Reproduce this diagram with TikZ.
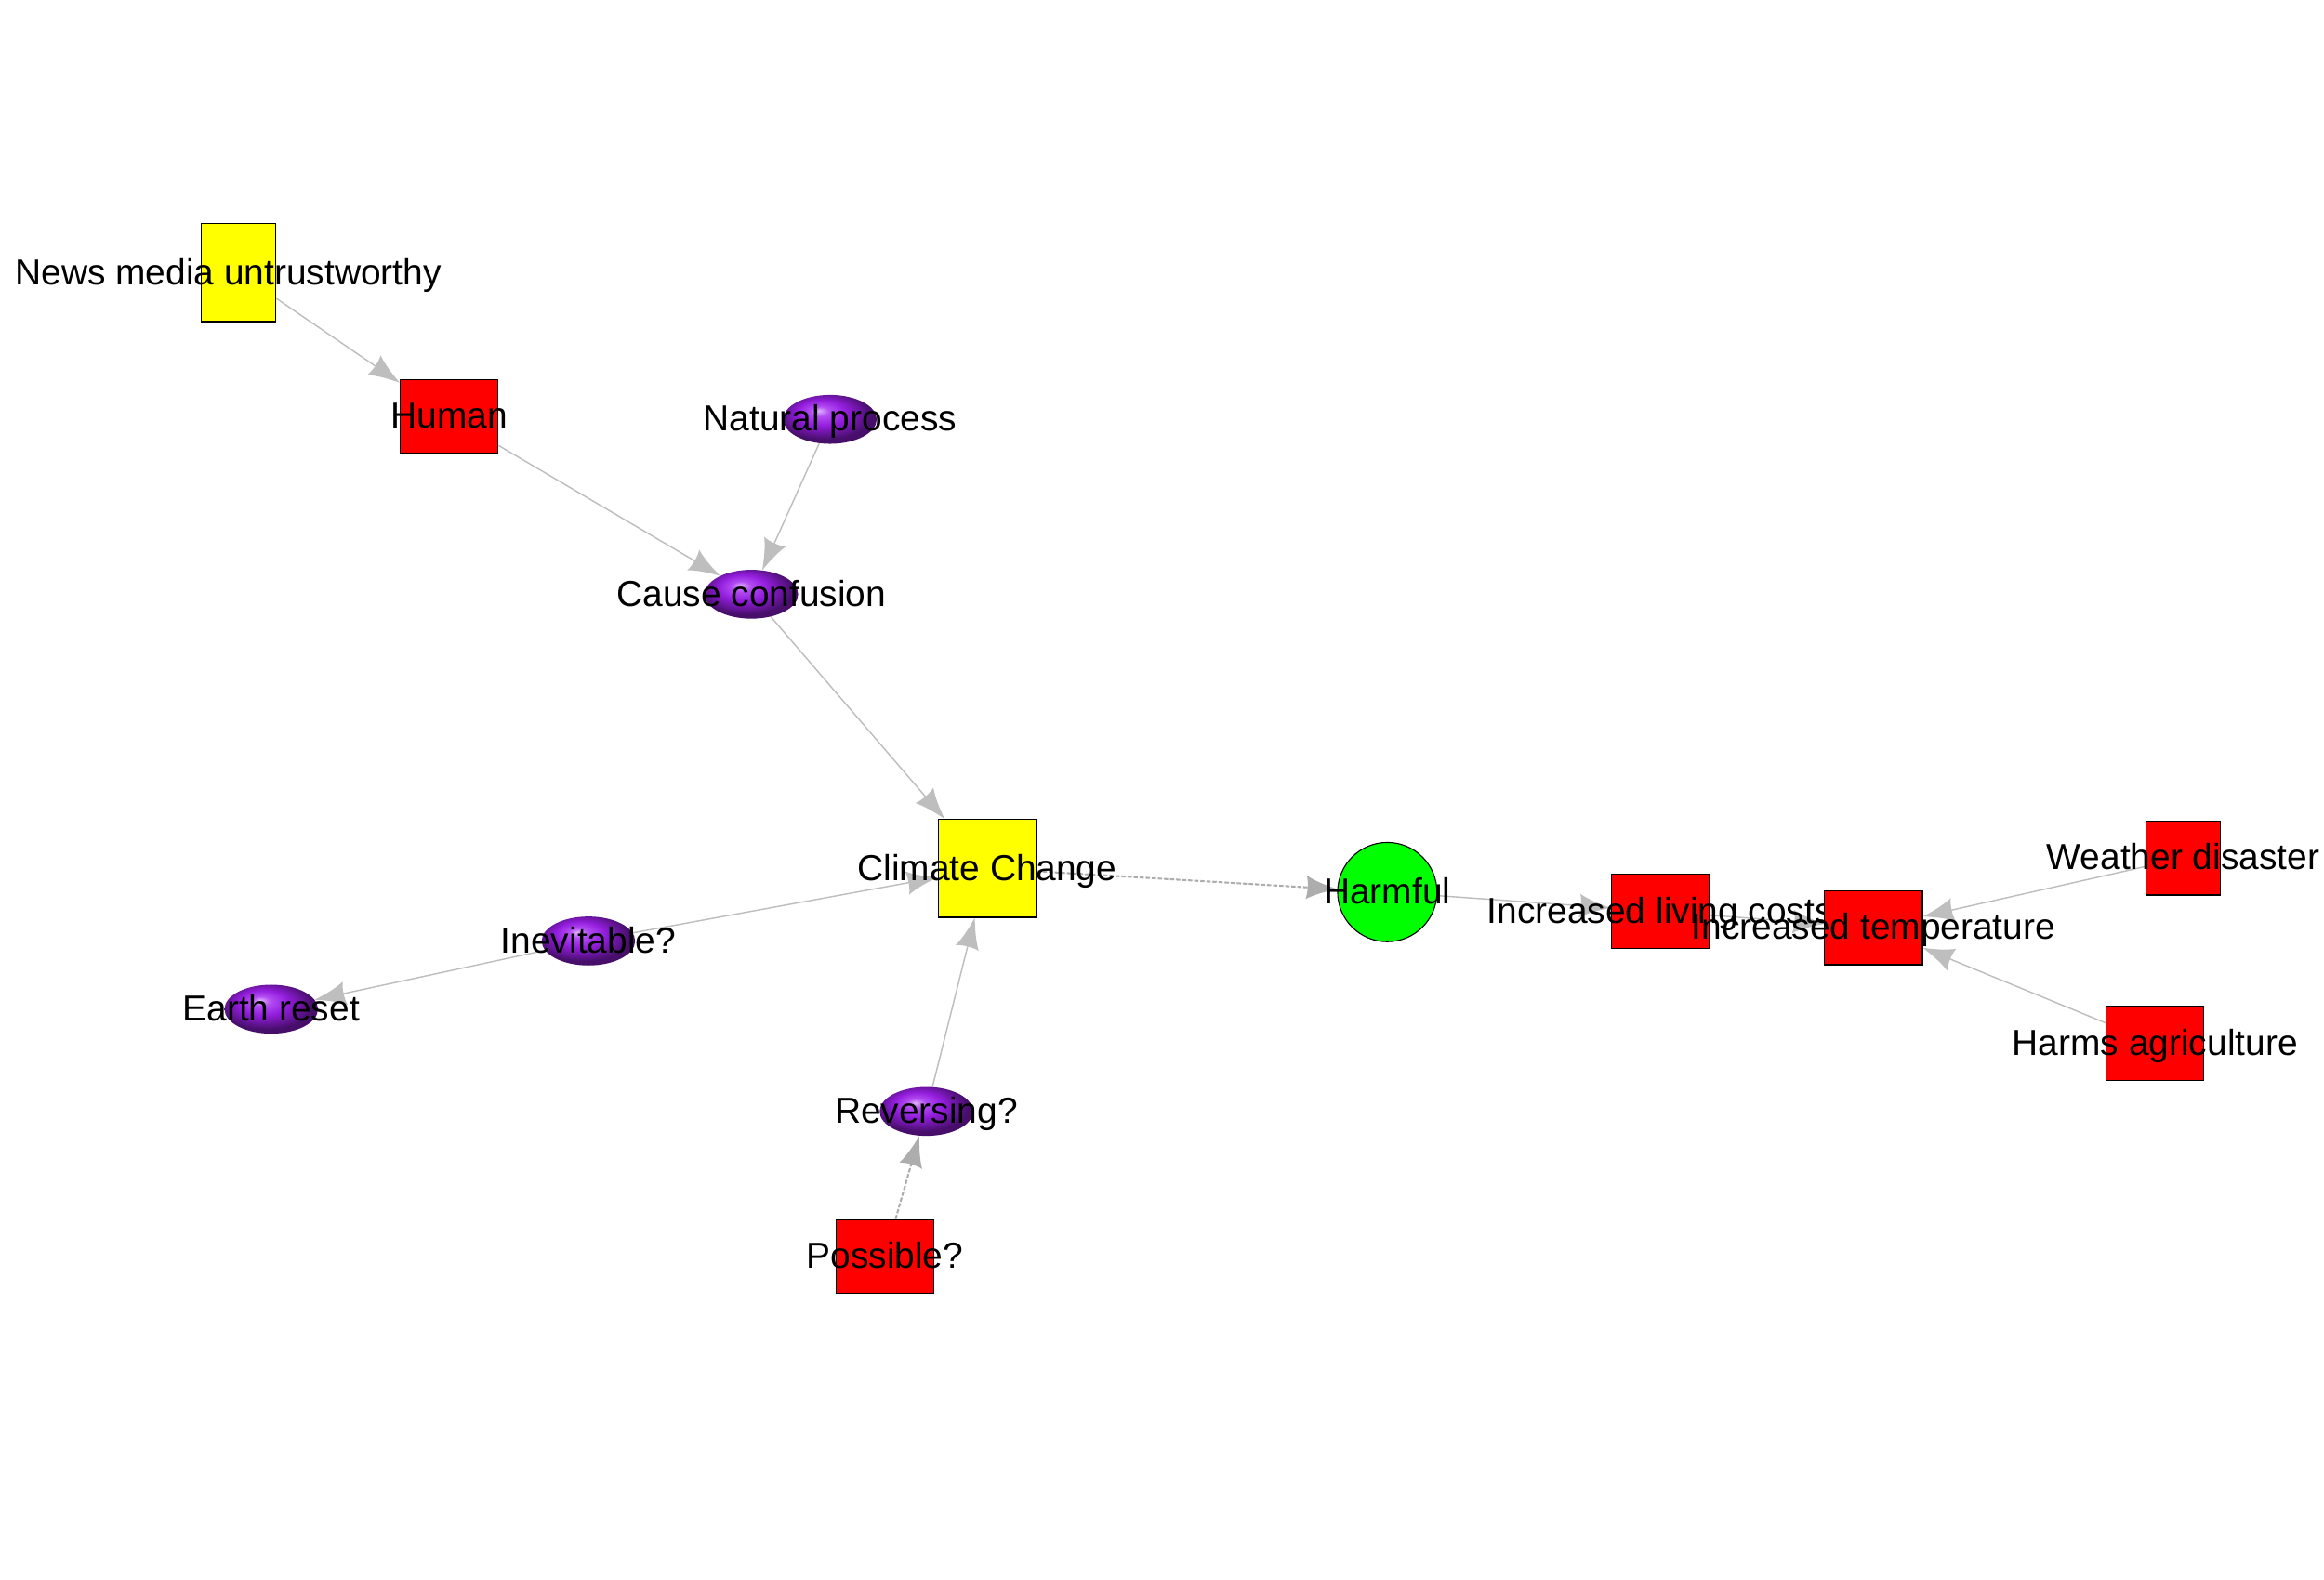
\documentclass[tikz,border=0pt]{standalone}
\usepackage{fontspec}
\setmainfont{Liberation Sans}
\usetikzlibrary{shapes.geometric,backgrounds,arrows.meta}
\definecolor{pur}{HTML}{A020F0}
\definecolor{edgegray}{HTML}{BEBEBE}
\definecolor{dashgray}{HTML}{ADADAD}
\definecolor{rred}{HTML}{FF0000}
\definecolor{yyel}{HTML}{FFFF00}
\definecolor{ggrn}{HTML}{00FF00}
\pgfdeclareradialshading{purpleball}{\pgfpoint{-6bp}{9bp}}{color(0bp)=(pur!35!white); color(5bp)=(pur!80!white); color(13bp)=(pur!92!black); color(25bp)=(pur!45!black); color(50bp)=(pur!35!black)}
\pgfdeclarearrow{
  name = Flare,
  parameters = {\the\pgfarrowlength,\the\pgfarrowwidth},
  setup code = {
    \pgfarrowssettipend{0pt}
    \pgfarrowssetlineend{-.6\pgfarrowlength}
    \pgfarrowssetbackend{-\pgfarrowlength}
    \pgfarrowshullpoint{0pt}{0pt}
    \pgfarrowsupperhullpoint{-\pgfarrowlength}{.5\pgfarrowwidth}
    \pgfarrowssavethe\pgfarrowlength
    \pgfarrowssavethe\pgfarrowwidth
  },
  drawing code = {
    \pgfpathmoveto{\pgfqpoint{0pt}{0pt}}
    \pgfpathcurveto{\pgfqpoint{-.4\pgfarrowlength}{.14\pgfarrowwidth}}{\pgfqpoint{-.75\pgfarrowlength}{.3\pgfarrowwidth}}{\pgfqpoint{-\pgfarrowlength}{.5\pgfarrowwidth}}
    \pgfpathcurveto{\pgfqpoint{-.93\pgfarrowlength}{.2\pgfarrowwidth}}{\pgfqpoint{-.93\pgfarrowlength}{-.2\pgfarrowwidth}}{\pgfqpoint{-\pgfarrowlength}{-.5\pgfarrowwidth}}
    \pgfpathcurveto{\pgfqpoint{-.75\pgfarrowlength}{-.3\pgfarrowwidth}}{\pgfqpoint{-.4\pgfarrowlength}{-.14\pgfarrowwidth}}{\pgfqpoint{0pt}{0pt}}
    \pgfpathclose
    \pgfusepathqfill
  },
  defaults = {length = 21pt, width = 16pt}
}
\tikzset{
  lab/.style={font=\fontsize{24.4pt}{28pt}\selectfont, text=black, inner sep=0pt, text height=17.5pt, text depth=0pt, yshift=0.8pt},
  sq/.style={rectangle, draw=black, line width=0.7pt, inner sep=0pt},
  ball/.style={ellipse, draw=none, inner sep=0pt, minimum width=63pt, minimum height=33pt, shading=purpleball},
  conn/.style={draw=edgegray, fill=edgegray, line width=0.9pt, -{Flare}},
  dconn/.style={conn, draw=dashgray, line width=1.3pt, dash pattern=on 2.8pt off 1.3pt}
}
\begin{document}
\begin{tikzpicture}[x=1pt, y=-1pt]
\useasboundingbox (0,0) rectangle (1568,1066);
% nodes
\node[sq, fill=yyel, minimum width=50pt, minimum height=66pt,
  label={[lab, xshift=-7pt]center:News media untrustworthy}] (news) at (161,184) {};
\node[sq, fill=rred, minimum width=66pt, minimum height=50pt,
  label={[lab]center:Human}] (human) at (303,281) {};
\node[ball, label={[lab]center:Natural process}] (nat) at (560,283) {};
\node[ball, label={[lab]center:Cause confusion}] (cause) at (507,401) {};
\node[sq, fill=yyel, minimum width=66pt, minimum height=66pt,
  label={[lab]center:Climate Change}] (cc) at (666,586) {};
\node[circle, draw=black, line width=0.7pt, fill=ggrn, inner sep=0pt, minimum size=67pt,
  label={[lab]center:Harmful}] (harm) at (936,602) {};
\node[ball, label={[lab]center:Inevitable?}] (inev) at (397,635) {};
\node[ball, label={[lab]center:Earth reset}] (earth) at (183,681) {};
\node[ball, label={[lab]center:Reversing?}] (rev) at (625,750) {};
\node[sq, fill=rred, minimum width=66pt, minimum height=50pt,
  label={[lab]center:Possible?}] (poss) at (597,848) {};
\node[sq, fill=rred, minimum width=66pt, minimum height=50pt,
  label={[lab]center:Increased living costs}] (ilc) at (1120,615) {};
\node[sq, fill=rred, minimum width=66pt, minimum height=50pt,
  label={[lab]center:Increased temperature}] (itemp) at (1264,626) {};
\node[sq, fill=rred, minimum width=50pt, minimum height=50pt,
  label={[lab]center:Weather disaster}] (weather) at (1473,579) {};
\node[sq, fill=rred, minimum width=66pt, minimum height=50pt,
  label={[lab]center:Harms agriculture}] (agri) at (1454,704) {};
% edges
\begin{pgfonlayer}{background}
\fill[white] (0,0) rectangle (1568,1066);
\draw[conn] (news) -- (human);
\draw[conn] (human) -- (cause);
\draw[conn] (nat) -- (cause);
\draw[conn] (cause) -- (cc);
\draw[dconn] (cc) -- (harm);
\draw[conn] (inev) -- (cc);
\draw[conn] (inev) -- (earth);
\draw[conn] (rev) -- (cc);
\draw[dconn] (poss) -- (rev);
\draw[conn] (harm) -- (ilc);
\draw[conn] (ilc) -- (itemp);
\draw[conn] (weather) -- (itemp);
\draw[conn] (agri) -- (itemp);
\end{pgfonlayer}
\end{tikzpicture}
\end{document}
